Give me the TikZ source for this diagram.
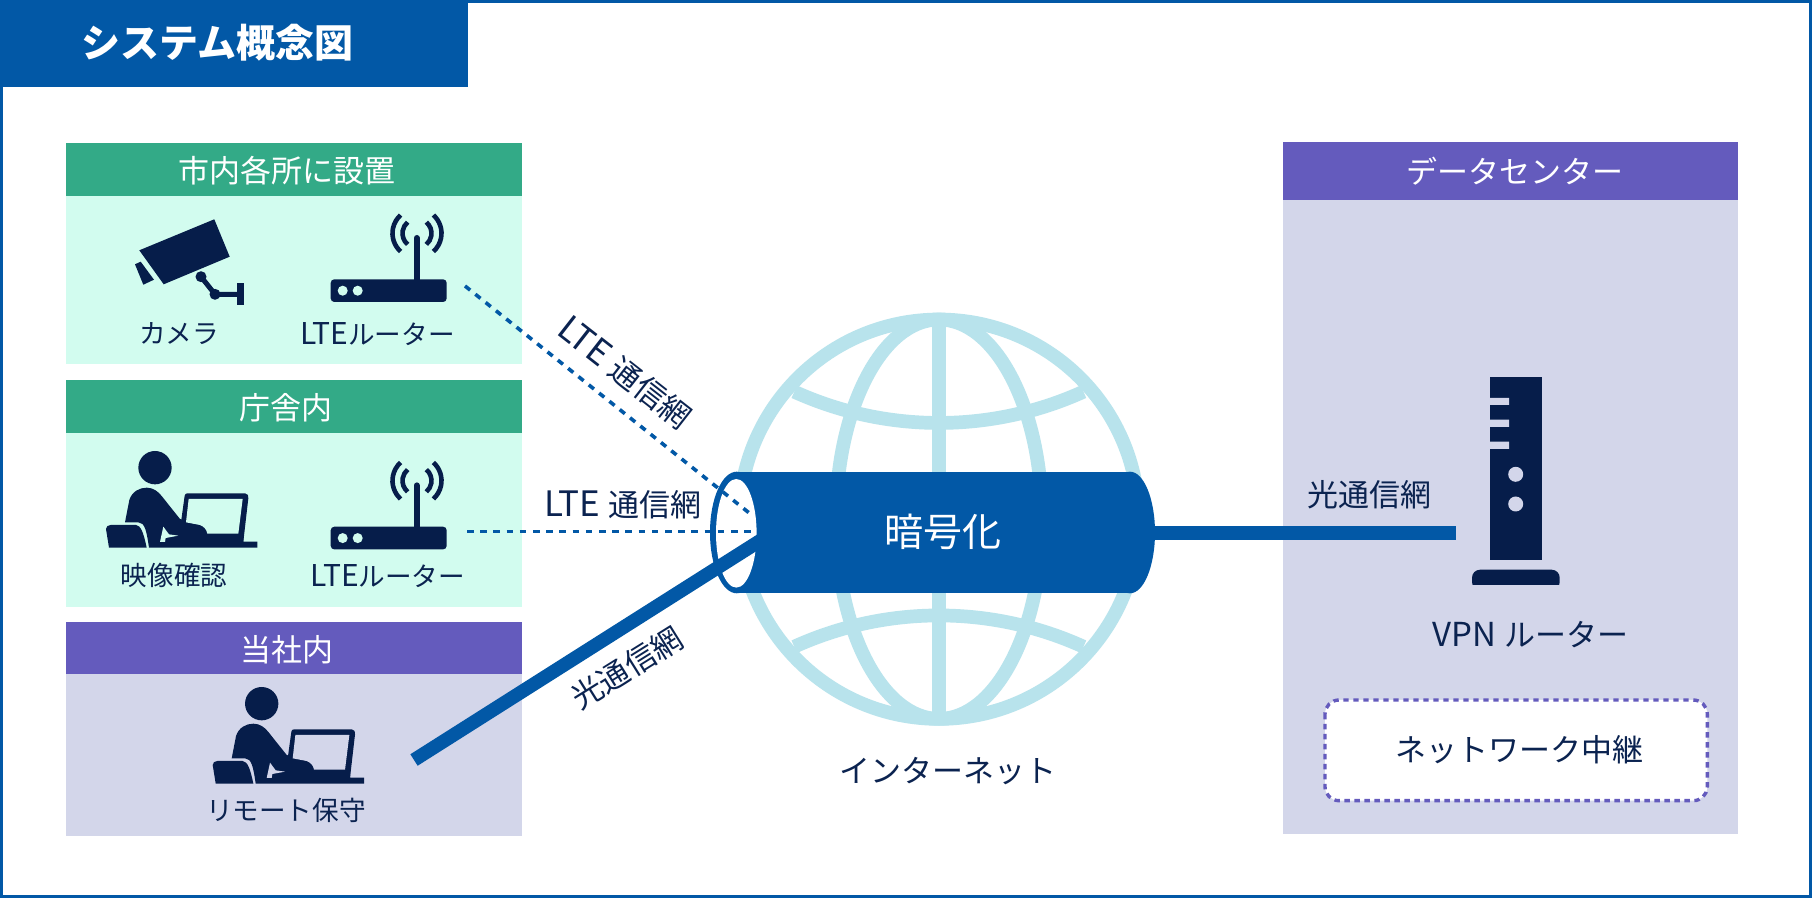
\documentclass[tikz,border=0pt]{standalone}
\usepackage{fontspec}
\setmainfont{Noto Sans CJK JP}
\definecolor{bluemain}{HTML}{0258A6}
\definecolor{navy}{HTML}{061D4A}
\definecolor{textnavy}{HTML}{0B2350}
\definecolor{grhead}{HTML}{33AA87}
\definecolor{mint}{HTML}{D2FCEF}
\definecolor{purp}{HTML}{645BBD}
\definecolor{lav}{HTML}{D3D6EA}
\definecolor{globec}{HTML}{B8E3EC}
\newcommand{\bigLTE}{{\fontsize{17.5}{15}\selectfont LTE}\hspace{4.5pt}}
\newcommand{\smallLTE}{{\fontsize{15}{13}\selectfont LTE}}
\tikzset{
  x=0.5pt,y=-0.5pt,
  lbl/.style={text=textnavy,inner sep=0pt,font=\fontsize{15.5}{15.5}\selectfont},
  smalllbl/.style={text=textnavy,inner sep=0pt,font=\fontsize{13.3}{13.3}\selectfont},
  headlbl/.style={text=white,inner sep=0pt,font=\fontsize{15.5}{15.5}\selectfont},
  globeline/.style={draw=globec,line width=6.85pt},
  dashlink/.style={draw=bluemain,line width=1.8pt,dash pattern=on 3.3pt off 3.3pt},
  thicklink/.style={draw=bluemain,line width=6.8pt},
}
\newcommand{\routericon}[2]{%
 \begin{scope}[shift={(#1,#2)}]
  \fill[navy,rounded corners=1.8pt] (330.7,279.3) rectangle (446.7,302);
  \fill[mint] (342.7,290.7) circle[radius=5] (357.7,290.7) circle[radius=5];
  \draw[navy,line width=3pt,line cap=round] (416.7,282) -- (416.7,238);
  \draw[navy,line width=2.3pt] (417,233.3) ++(130:14.5) arc[start angle=130,end angle=230,radius=14.5];
  \draw[navy,line width=2.3pt] (417,233.3) ++(132:24.5) arc[start angle=132,end angle=228,radius=24.5];
  \draw[navy,line width=2.3pt] (417,233.3) ++(-50:14.5) arc[start angle=-50,end angle=50,radius=14.5];
  \draw[navy,line width=2.3pt] (417,233.3) ++(-48:24.5) arc[start angle=-48,end angle=48,radius=24.5];
 \end{scope}}
\newcommand{\personicon}[3]{%
 \begin{scope}[shift={(#1,#2)},scale=1/3]
  \fill[navy] (165,68) circle[radius=50];
  % laptop
  \fill[navy] (243,232) -- (254,152) .. controls (255,147) and (258,145) .. (262,145) -- (435,145)
     .. controls (443,146) and (447,152) .. (445,160) -- (430,290) -- (243,290) -- cycle;
  % body and desk
  \fill[navy] (75,232) -- (88,165) .. controls (96,140) and (118,128) .. (140,128)
     .. controls (160,128) and (175,140) .. (185,153) -- (240,222) -- (300,240)
     .. controls (315,245) and (322,255) .. (320,268) -- (430,268) -- (430,290) -- (472,290) -- (472,308)
     -- (147,308) .. controls (140,260) and (135,232) .. (115,232) -- cycle;
  % screen
  \fill[#3] (258,232) -- (266,162) -- (428,162) -- (415,266) -- (322,266)
     .. controls (320,252) and (310,244) .. (300,240) -- cycle;
  % notch
  \fill[#3] (190,245) -- (207,268) -- (235,272) -- (197,279) -- (195,291) -- (180,291) -- cycle;
  % chair
  \fill[navy] (18,252) .. controls (18,245) and (24,240) .. (32,240) -- (108,240)
     .. controls (122,242) and (130,260) .. (140,308) -- (27,308) -- cycle;
 \end{scope}}
\begin{document}
\begin{tikzpicture}
\useasboundingbox (0,0) rectangle (1812,898);
\fill[white] (0,0) rectangle (1812,898);
\draw[bluemain,line width=1.5pt] (1.5,1.5) rectangle (1810.5,896.5);
\fill[bluemain] (0,0) rectangle (468,86.7);
\node[text=white,inner sep=0pt,font=\fontsize{19.5}{19.5}\selectfont\bfseries] (title) at (217.5,42.5) {システム概念図};

% left panels
\fill[mint] (66.3,196) rectangle (522,364.3);
\fill[grhead] (66.3,143.3) rectangle (522,196);
\node[headlbl] (h1) at (286.7,171) {市内各所に設置};
\fill[mint] (66.3,433.3) rectangle (522,606.7);
\fill[grhead] (66.3,380.3) rectangle (522,433.3);
\node[headlbl] (h2) at (285.5,407.5) {庁舎内};
\fill[lav] (66.3,674.3) rectangle (522,836);
\fill[purp] (66.3,622) rectangle (522,674.3);
\node[headlbl] (h3) at (286.7,649.5) {当社内};

% right panel
\fill[lav] (1283,142.1) rectangle (1738.3,833.7);
\fill[purp] (1283,142.1) rectangle (1738.3,200);
\node[headlbl] (h4) at (1515,171) {データセンター};

% camera
\fill[navy] (139.3,250.3) -- (214.3,219.3) -- (229.7,256.7) -- (163.7,284.3) -- cycle;
\fill[navy] (135,264.3) -- (140.7,261.7) -- (154,279.7) -- (143.3,284.7) -- cycle;
\draw[navy,line width=2.5pt] (201,276.7) -- (215,294.3) -- (240,294.3);
\fill[navy] (201,276.7) circle[radius=5.5] (215,294.3) circle[radius=5.5];
\fill[navy] (237,283) rectangle (243.7,305.3);
\node[smalllbl] (cam) at (179,334) {カメラ};
\routericon{0}{0}
\node[smalllbl] (r1) at (377.6,334) {\smallLTE ルーター};

\personicon{100}{445}{mint}
\node[smalllbl] (p1) at (174,575.3) {映像確認};
\routericon{0}{247.4}
\node[smalllbl] (r2) at (388,575.7) {\smallLTE ルーター};

\personicon{206.7}{681}{lav}
\node[smalllbl] (p2) at (285.8,810.8) {リモート保守};

% globe
\draw[globeline] (939,519.2) circle[radius=199.7];
\draw[globeline] (939,519.2) ellipse[x radius=103,y radius=199.7];
\draw[globeline] (939,319.5) -- (939,719);
\draw[globeline] (794.3,391.7) arc[start angle=114.4,end angle=65.6,radius=350];
\draw[globeline] (794.3,646.7) arc[start angle=-114.4,end angle=-65.6,radius=350];

% tube
\fill[bluemain] (736.7,532.5) ellipse[x radius=26.7,y radius=60.8];
\fill[bluemain] (1130,532.5) ellipse[x radius=25,y radius=60.8];
\fill[bluemain] (736.7,471.7) rectangle (1130,593.3);
\fill[white] (736.3,533.3) ellipse[x radius=20.3,y radius=54.3];
\node[text=white,inner sep=0pt,font=\fontsize{19.5}{19.5}\selectfont] (enc) at (943,531.5) {暗号化};

% router tower
\fill[navy] (1490,377) rectangle (1541.7,560);
\fill[lav] (1490,398) rectangle (1509,405) (1490,419.7) rectangle (1509,427) (1490,441.7) rectangle (1509,449);
\fill[lav] (1515.7,474.3) circle[radius=7.5] (1515.7,504) circle[radius=7.5];
\fill[navy,rounded corners=4pt] (1472,590) -- (1472,569.7) -- (1559.7,569.7) -- (1559.7,590) -- cycle;
\fill[lav] (1465,585) rectangle (1565,595);

% connector end points
\coordinate (a1) at (465,286);
\coordinate (b1) at (753,516);
\coordinate (a2) at (467,531.7);
\coordinate (b2) at (756.7,531.7);
\coordinate (a3) at (414,760);
\coordinate (b3) at (775,531.3);
\coordinate (a4) at (1155,533);
\coordinate (b4) at (1456,533);
\draw[dashlink] (a1) -- (b1);
\draw[dashlink] (a2) -- (b2);
\draw[thicklink] (a3) -- (b3);
\draw[thicklink] (a4) -- (b4);

\node[lbl,rotate=-38] (l1) at (625,373) {\bigLTE 通信網};
\node[lbl] (l2) at (623,505) {\bigLTE 通信網};
\node[lbl,rotate=32] (l3) at (627,668) {光通信網};
\node[lbl] (l4) at (1369.7,495) {光通信網};
\node[lbl] (vpn) at (1530.8,635) {{\fontsize{16.5}{15}\selectfont VPN}\hspace{4pt}ルーター};
\node[lbl] (inet) at (948,771.5) {インターネット};

\draw[draw=purp,fill=white,line width=1.7pt,dash pattern=on 2.7pt off 2.3pt,rounded corners=7pt] (1325,700) rectangle (1707.3,800.7);
\node[lbl] (relay) at (1519,749.5) {ネットワーク中継};
\end{tikzpicture}
\end{document}
